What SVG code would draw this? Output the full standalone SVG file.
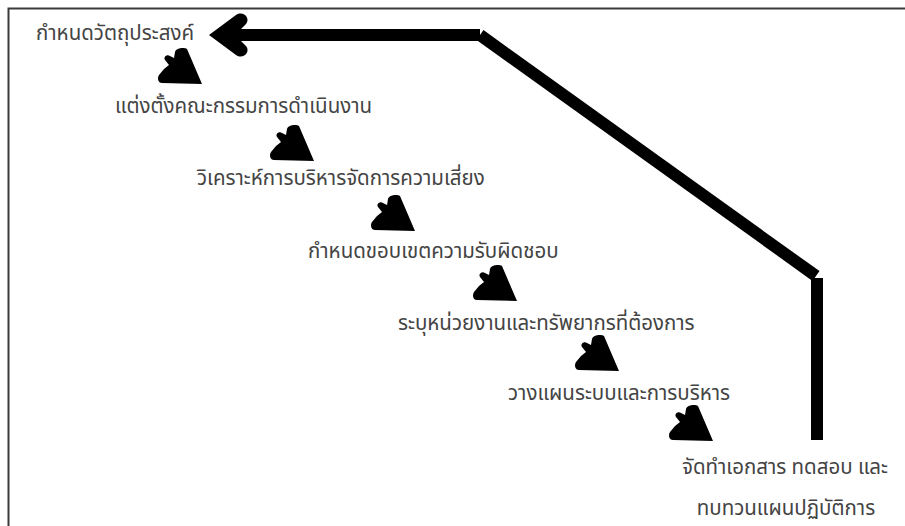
<svg xmlns="http://www.w3.org/2000/svg" width="905" height="526" viewBox="0 0 905 526">
<defs>
<style>
.t{font-family:"Noto Sans Thai","Noto Sans","DejaVu Sans",sans-serif;font-size:20.5px;fill:#444}
.ln{stroke:#000;stroke-width:12;fill:none;stroke-linecap:butt}
</style>
<path id="carr" d="M44,36 L4,35 C0,35 -1,30 1,27 L6,21 L11,17 L7,12 C5,9 9,6 12,8 L16,10 L17,4 C18,0 26,-1 29,1 Z" fill="#000"/>
</defs>
<rect x="0" y="0" width="905" height="526" fill="#fff"/>
<path d="M8.5,526 V8.5 H905" stroke="#3a3a3a" stroke-width="2" fill="none"/>
<g id="connectors">
<line class="ln" x1="480" y1="35" x2="239" y2="35"/>
<path d="M209,35 L236,15 C243,10 251,18 246,24 L240,30 L240,40 L246,46 C251,52 243,60 236,55 Z" fill="#000"/>
<line class="ln" x1="480" y1="35" x2="816" y2="276"/>
<line class="ln" x1="817" y1="278" x2="817" y2="440"/>
<use href="#carr" x="158" y="48"/>
<use href="#carr" x="270" y="125"/>
<use href="#carr" x="371" y="195"/>
<use href="#carr" x="473" y="265"/>
<use href="#carr" x="575" y="335"/>
<use href="#carr" x="669" y="405"/>
</g>
<g id="n1"><text class="t" x="36" y="40">กำหนดวัตถุประสงค์</text></g>
<g id="n2"><text class="t" x="115" y="113">แต่งตั้งคณะกรรมการดำเนินงาน</text></g>
<g id="n3"><text class="t" x="197" y="185">วิเคราะห์การบริหารจัดการความเสี่ยง</text></g>
<g id="n4"><text class="t" x="308" y="258">กำหนดขอบเขตความรับผิดชอบ</text></g>
<g id="n5"><text class="t" x="398" y="330">ระบุหน่วยงานและทรัพยากรที่ต้องการ</text></g>
<g id="n6"><text class="t" x="508" y="400">วางแผนระบบและการบริหาร</text></g>
<g id="n7"><text class="t" x="785" y="474" text-anchor="middle">จัดทำเอกสาร ทดสอบ และ</text><text class="t" x="786" y="515" text-anchor="middle">ทบทวนแผนปฏิบัติการ</text></g>
</svg>
